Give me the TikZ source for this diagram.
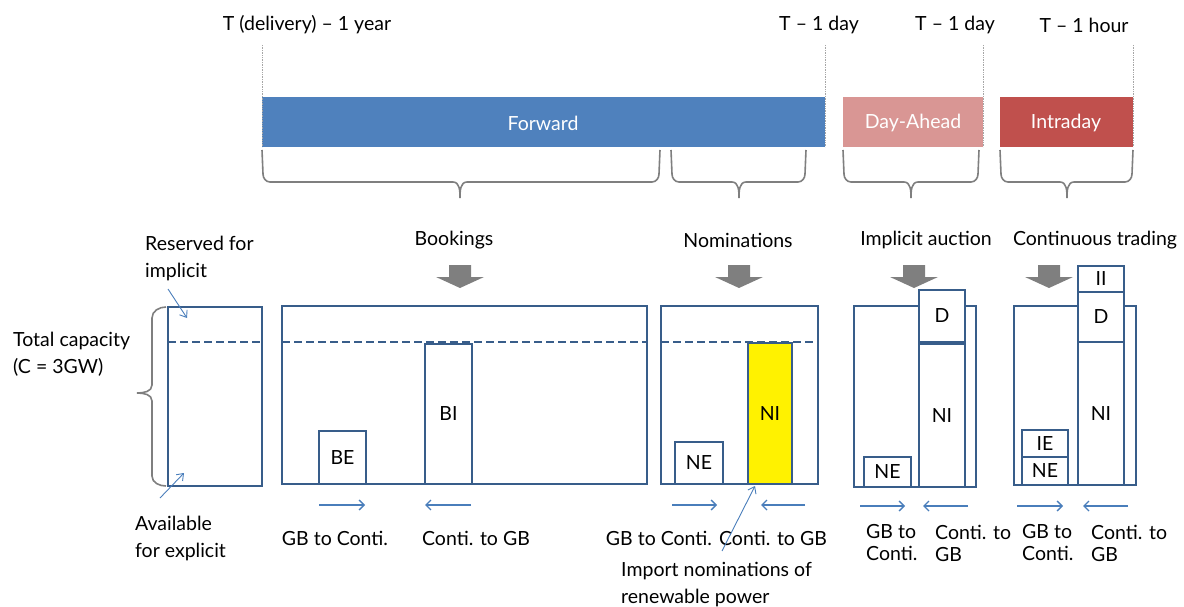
\documentclass[tikz,border=0pt]{standalone}
\usepackage{fontspec}
\setmainfont{Lato}
\usetikzlibrary{arrows.meta}

\definecolor{fwdblue}{HTML}{4F81BD}
\definecolor{dapink}{HTML}{D99694}
\definecolor{idred}{HTML}{C0504D}
\definecolor{boxline}{HTML}{385D8A}
\definecolor{thinblue}{HTML}{4A7EBB}
\definecolor{bracegray}{HTML}{7F7F7F}
\definecolor{guidegray}{HTML}{A6A6A6}
\definecolor{blockgray}{HTML}{7F7F7F}

\tikzset{
  txt/.style={inner sep=0pt, align=center},
  ltxt/.style={inner sep=0pt, align=left, anchor=west},
  tall/.style={font=\fontsize{19.5}{27}\selectfont},
  tight/.style={font=\fontsize{19.5}{22}\selectfont},
  phase/.style={inner sep=0pt, text=white},
  capbox/.style={draw=boxline, line width=2.9pt, inner sep=0pt},
  slot/.style={draw=boxline, line width=2.9pt, inner sep=0pt, fill=white},
  limit/.style={draw=boxline, line width=2.3pt, dash pattern=on 8pt off 4pt},
  flow/.style={draw=thinblue, line width=1.4pt, -{Straight Barb[length=5pt,width=10pt]}},
  pointer/.style={draw=thinblue, line width=0.9pt, -{Straight Barb[length=6pt,width=9pt]}},
  curly/.style={draw=bracegray, line width=1.6pt},
  guide/.style={draw=guidegray, line width=0.7pt, densely dotted},
  push/.style={fill=blockgray, draw=none}
}

\begin{document}
\begin{tikzpicture}[x=1pt,y=-1pt, font=\fontsize{19.5}{23}\selectfont]
\useasboundingbox (0,0) rectangle (1184,607);

% ---------- time line ----------
\node[txt] (t1) at (307,25) {T (delivery) – 1 year};
\node[txt] (t2) at (819,25) {T – 1 day};
\node[txt] (t3) at (955,25) {T – 1 day};
\node[txt] (t4) at (1084,25) {T – 1 hour};

\path[fill=fwdblue] (262,97) rectangle (825,147);
\path[fill=dapink] (843,97) rectangle (983,147);
\path[fill=idred] (1000,97) rectangle (1133,147);
\node[phase] (fwd) at (543,123) {Forward};
\node[phase] (da) at (913,123) {Day-Ahead};
\node[phase] (id) at (1066,123) {Intraday};

\coordinate (g1a) at (262,45); \coordinate (g1b) at (262,147);
\coordinate (g2a) at (825,45); \coordinate (g2b) at (825,147);
\coordinate (g3a) at (983,45); \coordinate (g3b) at (983,147);
\coordinate (g4a) at (1133,45); \coordinate (g4b) at (1133,147);
\draw[guide] (g1a) -- (g1b);
\draw[guide] (g2a) -- (g2b);
\draw[guide] (g3a) -- (g3b);
\draw[guide] (g4a) -- (g4b);

% ---------- braces under the phases ----------
\foreach \xa/\xt/\xb in {262/460/660, 671/739/806, 843/911/979, 1000/1067/1133}{
  \draw[curly] (\xa,150) -- (\xa+1,174) to[out=-90,in=180] (\xa+8,182)
     -- (\xt-7,182) to[out=0,in=90] (\xt,198) to[out=90,in=180] (\xt+7,182)
     -- (\xb-8,182) to[out=0,in=-90] (\xb-1,174) -- (\xb,150);
}

\node[txt] (hbook) at (454,240) {Bookings};
\node[txt] (hnom) at (738,240) {Nominations};
\node[txt] (himp) at (926,240) {Implicit auction};
\node[txt] (hcont) at (1095,240) {Continuous trading};

% ---------- block arrows ----------
\foreach \c in {460,739,914,1049}{
  \path[push] (\c-11,265) -- (\c+11,265) -- (\c+11,277) -- (\c+24,277)
     -- (\c,288) -- (\c-24,277) -- (\c-11,277) -- cycle;
}

% ---------- total capacity ----------
\node[capbox, minimum width=94pt, minimum height=179pt] (cap) at (215,396.5) {};
\draw[limit] (168,342) -- (262,342);
\draw[curly] (166,307) to[out=180,in=90] (152,318) -- (152,385)
   to[out=-90,in=0] (137,393) to[out=0,in=90] (152,401) -- (152,476)
   to[out=-90,in=180] (166,486);
\node[ltxt, tall] (tot) at (13,354) {Total capacity\\(C = 3GW)};
\node[ltxt, tall] (res) at (145,258) {Reserved for\\implicit};
\node[ltxt, tall] (avail) at (135,538) {Available\\for explicit};
\coordinate (resA) at (168,289); \coordinate (resB) at (187,318);
\coordinate (avA) at (160,498); \coordinate (avB) at (184,473);
\draw[pointer] (resA) -- (resB);
\draw[pointer] (avA) -- (avB);

% ---------- bookings ----------
\node[capbox, minimum width=365pt, minimum height=178pt] (book) at (464.5,395) {};
\draw[limit] (282,342) -- (647,342);
\node[slot, minimum width=47pt, minimum height=53pt] (be) at (342.5,457.5) {BE};
\node[slot, minimum width=47pt, minimum height=140pt] (bi) at (448.5,414) {BI};
\coordinate (b1a) at (319,505); \coordinate (b1b) at (365,505);
\coordinate (b2a) at (471,505); \coordinate (b2b) at (425,505);
\draw[flow] (b1a) -- (b1b);
\draw[flow] (b2a) -- (b2b);
\node[txt] (lb1) at (335,538) {GB to Conti.};
\node[txt] (lb2) at (476,538) {Conti. to GB};

% ---------- nominations ----------
\node[capbox, minimum width=157pt, minimum height=178pt] (nom) at (739.5,395) {};
\draw[limit] (661,342) -- (818,342);
\node[slot, minimum width=48pt, minimum height=42pt] (ne1) at (699,463) {NE};
\node[slot, fill=yellow, minimum width=44pt, minimum height=141pt] (ni1) at (770,413.5) {NI};
\coordinate (n1a) at (672,505); \coordinate (n1b) at (717,505);
\coordinate (n2a) at (805,505); \coordinate (n2b) at (761,505);
\draw[flow] (n1a) -- (n1b);
\draw[flow] (n2a) -- (n2b);
\node[txt] (ln1) at (659,538) {GB to Conti.};
\node[txt] (ln2) at (773,538) {Conti. to GB};
\node[ltxt, tall] (imp) at (621,585) {Import nominations of\\renewable power};
\coordinate (ipA) at (722,551); \coordinate (ipB) at (755,486);
\draw[pointer] (ipA) -- (ipB);

% ---------- implicit auction ----------
\node[capbox, minimum width=122pt, minimum height=181pt] (impl) at (915,396.5) {};
\node[slot, minimum width=46pt, minimum height=52pt] (d1) at (942,316) {D};
\node[slot, minimum width=46pt, minimum height=143pt] (ni2) at (942,415.5) {NI};
\node[slot, minimum width=47pt, minimum height=30pt] (ne2) at (887.5,472) {NE};
\coordinate (i1a) at (860,506); \coordinate (i1b) at (905,506);
\coordinate (i2a) at (968,506); \coordinate (i2b) at (923,506);
\draw[flow] (i1a) -- (i1b);
\draw[flow] (i2a) -- (i2b);
\node[ltxt, tight] (li1) at (866,543) {GB to\\Conti.};
\node[ltxt, tight] (li2) at (935,543) {Conti. to\\GB};

% ---------- continuous trading ----------
\node[capbox, minimum width=122pt, minimum height=179pt] (cont) at (1075,395.5) {};
\node[slot, minimum width=46pt, minimum height=26pt] (ii) at (1101,279) {II};
\node[slot, minimum width=46pt, minimum height=50pt] (d2) at (1101,317) {D};
\node[slot, minimum width=46pt, minimum height=143pt] (ni3) at (1101,413.5) {NI};
\node[slot, minimum width=46pt, minimum height=27pt] (ie) at (1045,443.5) {IE};
\node[slot, minimum width=46pt, minimum height=28pt] (ne3) at (1045,471) {NE};
\coordinate (c1a) at (1017,506); \coordinate (c1b) at (1063,506);
\coordinate (c2a) at (1128,506); \coordinate (c2b) at (1083,506);
\draw[flow] (c1a) -- (c1b);
\draw[flow] (c2a) -- (c2b);
\node[ltxt, tight] (lc1) at (1022,543) {GB to\\Conti.};
\node[ltxt, tight] (lc2) at (1091,543) {Conti. to\\GB};
\end{tikzpicture}
\end{document}
